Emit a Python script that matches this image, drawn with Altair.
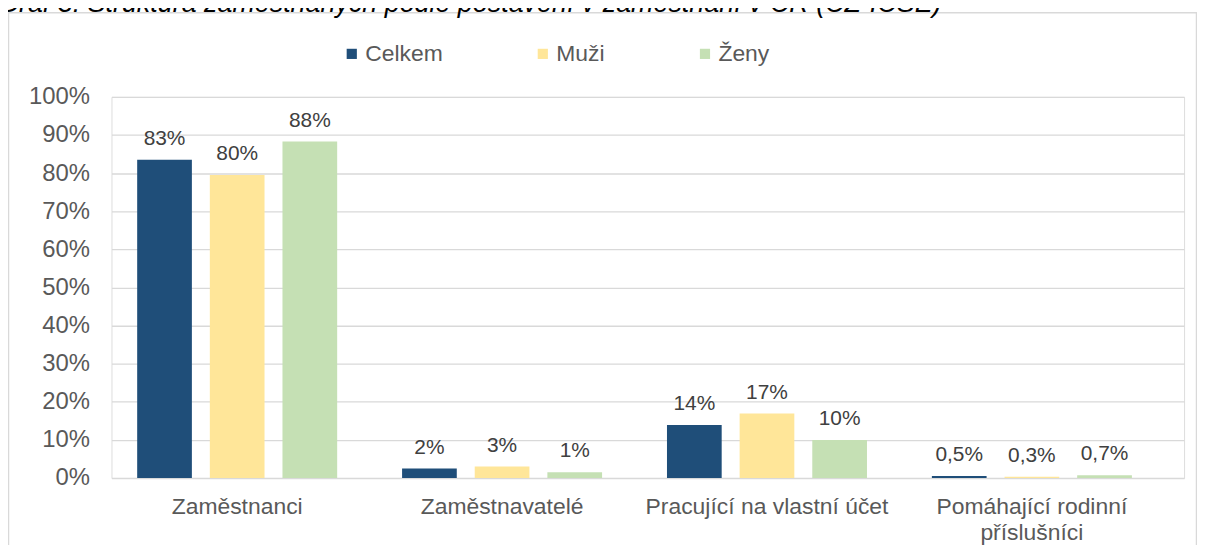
import altair as alt
import pandas as pd

categories = ["Zaměstnanci", "Zaměstnavatelé", "Pracující na vlastní účet", "Pomáhající rodinní příslušníci"]
series = ["Celkem", "Muži", "Ženy"]
celkem = [83.5, 2.5, 13.9, 0.5]
muzi = [79.5, 3.0, 16.9, 0.3]
zeny = [88.3, 1.5, 10.0, 0.7]
celkem_lbl = ["83%", "2%", "14%", "0,5%"]
muzi_lbl = ["80%", "3%", "17%", "0,3%"]
zeny_lbl = ["88%", "1%", "10%", "0,7%"]
y_ticks = [0, 10, 20, 30, 40, 50, 60, 70, 80, 90, 100]
colors = ["#1F4E79", "#FFE699", "#C5E0B4"]
title_text = "Graf 3: Struktura zaměstnaných podle postavení v zaměstnání v ČR (CZ-ICSE)"

rows = []
for s, vals, lbls in zip(series, [celkem, muzi, zeny], [celkem_lbl, muzi_lbl, zeny_lbl]):
    for c, v, l in zip(categories, vals, lbls):
        rows.append({"kat": c, "serie": s, "hodnota": v, "popisek": l})
df = pd.DataFrame(rows)

FONT = "Liberation Sans"
W, H = 1078, 383

x_scale = alt.Scale(paddingInner=0.245, paddingOuter=0.147, align=0.33)
x_enc = alt.X(
    "kat:N", sort=categories, title=None, scale=x_scale,
    axis=alt.Axis(
        labelAngle=0, domain=False, ticks=False, labelFont=FONT, labelFontSize=23,
        labelColor="#595959", labelPadding=18, labelLineHeight=26, labelLimit=0,
        labelOverlap=False,
        labelExpr="datum.label == 'Pomáhající rodinní příslušníci' ? ['Pomáhající rodinní', 'příslušníci'] : datum.label",
    ),
)
xo_enc = alt.XOffset("serie:N", sort=series, scale=alt.Scale(paddingInner=0.247, paddingOuter=0))
y_enc = alt.Y(
    "hodnota:Q", title=None,
    scale=alt.Scale(domain=[0, 100], nice=False),
    axis=alt.Axis(
        values=y_ticks, labelExpr="datum.value + '%'", domain=False, ticks=False,
        grid=True, gridColor="#D9D9D9", gridWidth=1.3, labelFont=FONT, labelFontSize=24,
        labelColor="#595959", labelPadding=22, labelOverlap=False,
    ),
)

bars = alt.Chart(df).mark_bar().encode(
    x=x_enc, xOffset=xo_enc, y=y_enc,
    color=alt.Color(
        "serie:N", sort=series, title=None,
        scale=alt.Scale(domain=series, range=colors),
        legend=alt.Legend(
            orient="none", direction="horizontal", legendX=230, legendY=-55,
            symbolType="square", symbolSize=105, symbolStrokeWidth=0,
            labelFont=FONT, labelFontSize=23, labelColor="#595959",
            labelOffset=2, columnPadding=89, padding=0,
        ),
    ),
)

labels = alt.Chart(df).mark_text(
    baseline="alphabetic", dy=-15, font=FONT, fontSize=21, color="#404040"
).encode(x=x_enc, xOffset=xo_enc, y=y_enc, text="popisek:N")

frame = alt.Chart(alt.Data(values=[{"f": 1}])).mark_rect(
    fill=None, stroke="#D9D9D9", strokeWidth=1.5
).encode(x=alt.value(-103.5), x2=alt.value(1090.5), y=alt.value(-84.5), y2=alt.value(470))

title = alt.Chart(alt.Data(values=[{"t": title_text}])).mark_text(
    align="left", baseline="alphabetic", font=FONT, fontSize=27, fontStyle="italic", color="#000000"
).encode(x=alt.value(-114), y=alt.value(-85), text="t:N")

chart = alt.layer(frame, bars, labels, title).properties(
    width=W, height=H,
    autosize=alt.AutoSizeParams(type="none"),
    padding={"left": 104, "top": 88, "right": 13, "bottom": 66},
).configure_view(stroke=None).configure(background="white")

chart.save("out.html", embed_options={"renderer": "svg", "actions": False})
